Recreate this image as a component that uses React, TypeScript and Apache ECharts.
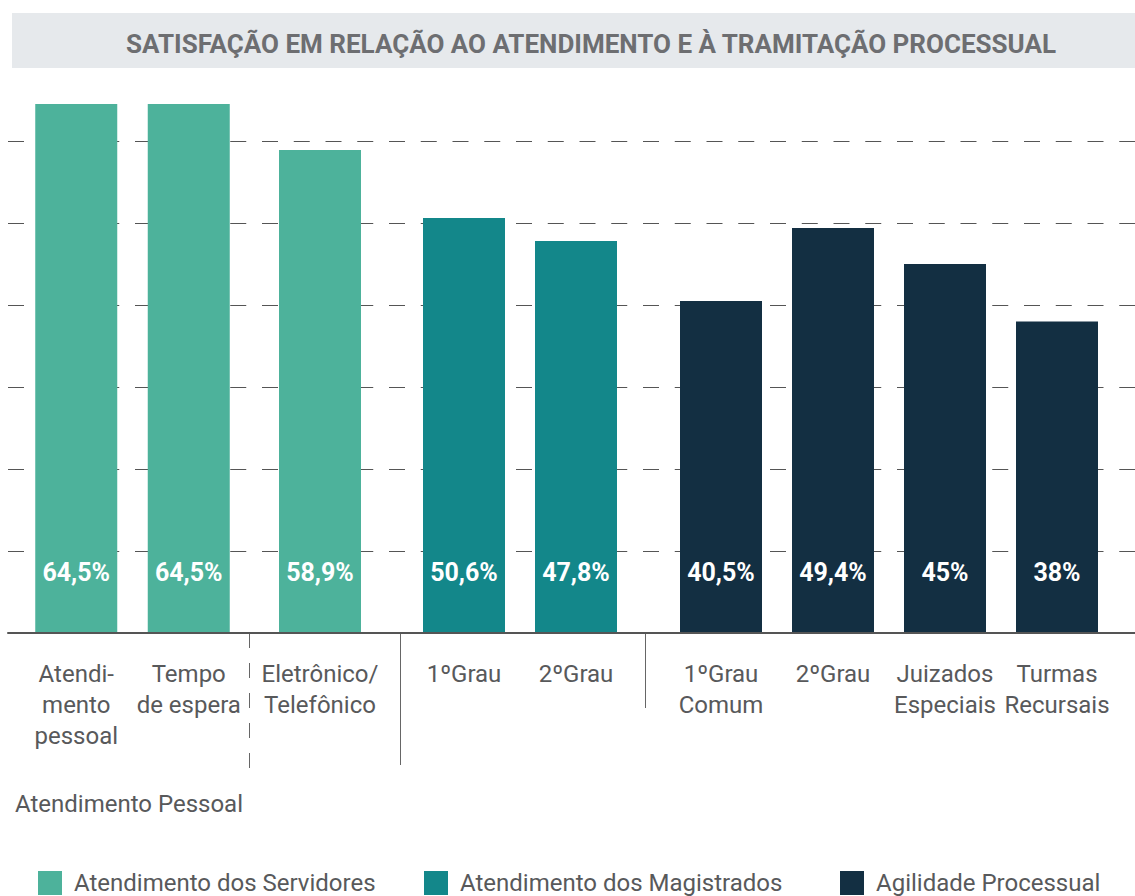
import React, { useEffect, useRef } from "react";
import * as echarts from "echarts";

const titleText = "SATISFAÇÃO EM RELAÇÃO AO ATENDIMENTO E À TRAMITAÇÃO PROCESSUAL";
const legendNames = ["Atendimento dos Servidores", "Atendimento dos Magistrados", "Agilidade Processual"];
const groupCaption = "Atendimento Pessoal";

const catPessoal = ["Atendi-\nmento\npessoal", "Tempo\nde espera"];
const valPessoal = [64.5, 64.5];
const catEletronico = ["Eletrônico/\nTelefônico"];
const valEletronico = [58.9];
const catMagistrados = ["1ºGrau", "2ºGrau"];
const valMagistrados = [50.6, 47.8];
const catAgilidade = ["1ºGrau\nComum", "2ºGrau", "Juizados\nEspeciais", "Turmas\nRecursais"];
const valAgilidade = [40.5, 49.4, 45, 38];

const yMax = 65;
const yStep = 10;

const FONT = "Roboto, 'Noto Sans', sans-serif";
const TEXT = "#58595b";
const C1 = "#4db29b";
const C2 = "#13878a";
const C3 = "#132f42";

const W = 1135;
const H = 896;
const TOP = 100;
const BASE = 633;

export default function App() {
  const ref = useRef<HTMLDivElement>(null);
  useEffect(() => {
    if (!ref.current) return;
    const chart = echarts.init(ref.current, null, { renderer: "svg" });

    const groups = [
      { cats: catPessoal, vals: valPessoal, name: legendNames[0], color: C1, left: 20, width: 225 },
      { cats: catEletronico, vals: valEletronico, name: legendNames[0], color: C1, left: 264, width: 112 },
      { cats: catMagistrados, vals: valMagistrados, name: legendNames[1], color: C2, left: 408, width: 224 },
      { cats: catAgilidade, vals: valAgilidade, name: legendNames[2], color: C3, left: 665, width: 448 },
    ];

    const grids: any[] = [{ left: 8, right: 0, top: TOP, bottom: H - BASE }];
    const xAxes: any[] = [
      {
        gridIndex: 0,
        type: "value",
        min: 0,
        max: 1,
        z: 10,
        axisLine: { show: true, lineStyle: { color: "#555", width: 2 } },
        axisTick: { show: false },
        axisLabel: { show: false },
        splitLine: { show: false },
      },
    ];
    const yAxes: any[] = [
      {
        gridIndex: 0,
        type: "value",
        min: 0,
        max: yMax,
        interval: yStep,
        axisLine: { show: false },
        axisTick: { show: false },
        axisLabel: { show: false },
        splitLine: {
          show: true,
          showMinLine: false,
          showMaxLine: false,
          lineStyle: { color: "#555", width: 1, type: [16, 15.75] },
        },
      },
    ];
    const series: any[] = [];

    groups.forEach((g, i) => {
      const idx = i + 1;
      grids.push({ left: g.left, width: g.width, top: TOP, bottom: H - BASE });
      xAxes.push({
        gridIndex: idx,
        type: "category",
        data: g.cats,
        axisLine: { show: false },
        axisTick: { show: false },
        splitLine: { show: false },
        axisLabel: {
          interval: 0,
          margin: 25,
          color: TEXT,
          fontFamily: FONT,
          fontSize: 24,
          lineHeight: 31,
          align: "center",
        },
      });
      yAxes.push({
        gridIndex: idx,
        type: "value",
        min: 0,
        max: yMax,
        show: false,
        splitLine: { show: false },
      });
      series.push({
        type: "bar",
        name: g.name,
        xAxisIndex: idx,
        yAxisIndex: idx,
        data: g.vals,
        barWidth: 82,
        itemStyle: { color: g.color },
        label: {
          show: true,
          position: "insideBottom",
          distance: 48,
          color: "#ffffff",
          fontFamily: FONT,
          fontWeight: "bold",
          fontSize: 25,
          formatter: (p: any) => String(p.value).replace(".", ",") + "%",
        },
      });
    });

    const legendLefts = [38, 424, 840];
    const legends = legendNames.map((n, i) => ({
      data: [n],
      left: legendLefts[i],
      top: 871,
      padding: 0,
      itemWidth: 24,
      itemHeight: 24,
      icon: "rect",
      selectedMode: false,
      textStyle: { color: TEXT, fontFamily: FONT, fontSize: 24, padding: [0, 0, 0, 7] },
    }));

    chart.setOption({
      animation: false,
      backgroundColor: "#ffffff",
      grid: grids,
      xAxis: xAxes,
      yAxis: yAxes,
      series,
      legend: legends,
      graphic: [
        { type: "rect", shape: { x: 12, y: 13, width: W - 12, height: 55 }, style: { fill: "#e6e9ec" }, z: -1 },
        {
          type: "text",
          x: 591,
          y: 44,
          style: {
            text: titleText,
            fill: "#6d6e71",
            font: `bold 26px ${FONT}`,
            textAlign: "center",
            textVerticalAlign: "middle",
          },
        },
        {
          type: "text",
          x: 15,
          y: 804,
          style: {
            text: groupCaption,
            fill: TEXT,
            font: `24px ${FONT}`,
            textAlign: "left",
            textVerticalAlign: "middle",
          },
        },
        { type: "line", shape: { x1: 249.5, y1: BASE, x2: 249.5, y2: 770 }, style: { stroke: "#666", lineWidth: 1, lineDash: [15, 15] } },
        { type: "line", shape: { x1: 400.5, y1: BASE, x2: 400.5, y2: 765 }, style: { stroke: "#666", lineWidth: 1 } },
        { type: "line", shape: { x1: 645.5, y1: BASE, x2: 645.5, y2: 708 }, style: { stroke: "#666", lineWidth: 1 } },
      ],
    });
    return () => chart.dispose();
  }, []);
  return <div ref={ref} style={{ position: "absolute", left: 0, top: 0, width: W, height: H }} />;
}
